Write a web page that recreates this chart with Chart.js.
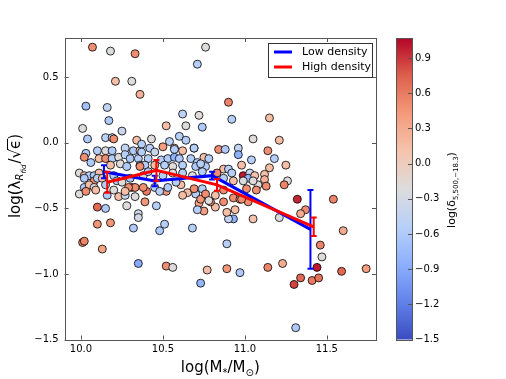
<!DOCTYPE html>
<html><head><meta charset="utf-8">
<script src="https://cdn.jsdelivr.net/npm/chart.js@4.4.1/dist/chart.umd.min.js"></script>
<style>html,body{margin:0;padding:0;background:#fff;}#wrap{width:506px;height:379px;}</style>
</head><body><div id="wrap"><canvas id="c" width="506" height="379"></canvas></div>
<script>
// ---- data ----
const xTicks = [10.0, 10.5, 11.0, 11.5];
const yTicks = [0.5, 0.0, -0.5, -1.0, -1.5];
const cbTicks = [0.9, 0.6, 0.3, 0.0, -0.3, -0.6, -0.9, -1.2, -1.5];
const cbMin = -1.5, cbMax = 1.07;

const lowX = [10.14, 10.45, 10.80, 11.40];
const lowY = [-0.22, -0.29, -0.25, -0.66];
const lowErr = [0.05, 0.04, 0.03, 0.30];
const highX = [10.16, 10.46, 10.83, 11.42];
const highY = [-0.30, -0.21, -0.32, -0.64];
const highErr = [0.08, 0.08, 0.045, 0.07];

const galX = [10.07,10.18,10.33,10.76,10.71,10.21,10.31,10.36,10.03,10.16,10.17,10.62,10.72,10.52,10.64,10.74,10.01,10.25,10.04,10.15,10.19,10.20,10.34,10.43,10.54,10.60,10.64,10.84,10.50,10.57,10.69,10.90,10.92,11.15,11.05,11.21,10.88,10.96,10.96,11.04,11.14,11.18,11.25,11.15,10.99,10.98,10.87,10.90,10.92,11.03,11.02,11.06,11.12,11.12,11.26,11.24,11.08,11.05,11.13,11.07,10.99,10.93,10.87,11.01,10.87,10.87,10.93,10.97,11.02,11.32,11.37,11.34,11.54,11.21,11.05,10.93,10.90,10.89,10.94,10.82,10.75,10.79,10.98,11.60,11.46,11.47,10.89,10.77,10.89,10.97,11.14,11.23,11.44,11.34,11.30,11.41,11.45,11.59,11.74,11.31,10.73,9.99,10.16,10.10,10.15,10.23,10.27,10.28,10.39,10.46,10.35,10.35,10.10,10.18,10.32,10.48,10.51,10.68,10.01,10.02,10.13,10.35,10.52,10.56,10.40,10.31,10.52,10.65,10.70,10.72,10.71,10.73,10.83,10.03,10.02,10.10,10.15,10.19,10.27,10.32,10.36,10.06,10.11,10.15,10.19,10.23,10.27,10.30,10.35,10.18,10.24,10.28,10.36,9.99,10.02,10.05,10.08,10.11,10.02,10.08,10.10,10.13,10.20,10.22,10.25,10.30,10.33,10.29,10.02,10.05,10.08,10.15,10.03,10.09,10.20,10.27,10.33,10.37,10.37,10.42,10.45,10.57,10.62,10.69,10.75,10.78,10.41,10.49,10.53,10.57,10.60,10.67,10.71,10.39,10.45,10.51,10.56,10.62,10.70,10.76,10.38,10.41,10.50,10.56,10.62,10.68,10.74,10.38,10.45,10.48,10.53,10.62,10.69,10.74,10.76,10.78,10.82,10.61,10.58,10.36,10.73];
const galY = [0.73,0.70,0.68,0.73,0.60,0.47,0.47,0.37,0.28,0.27,0.17,0.22,0.21,0.13,0.13,0.12,0.11,0.09,0.03,0.04,0.04,0.03,0.02,0.03,0.01,0.05,0.02,-0.05,-0.03,-0.04,-0.04,0.31,0.18,0.19,0.03,0.02,-0.05,-0.04,-0.09,-0.13,-0.06,-0.12,-0.17,-0.19,-0.25,-0.17,-0.20,-0.20,-0.23,-0.23,-0.27,-0.25,-0.24,-0.28,-0.29,-0.32,-0.32,-0.29,-0.33,-0.36,-0.29,-0.29,-0.27,-0.35,-0.36,-0.45,-0.42,-0.43,-0.45,-0.43,-0.51,-0.54,-0.43,-0.57,-0.58,-0.58,-0.58,-0.53,-0.51,-0.49,-0.52,-0.45,-0.43,-0.67,-0.78,-0.87,-0.77,-0.97,-0.96,-0.99,-0.95,-0.92,-0.95,-1.03,-1.08,-1.05,-1.03,-0.98,-0.96,-1.41,-1.07,-0.39,-0.40,-0.49,-0.50,-0.41,-0.40,-0.48,-0.45,-0.48,-0.54,-0.57,-0.62,-0.61,-0.65,-0.67,-0.62,-0.65,-0.76,-0.75,-0.81,-0.92,-0.94,-0.95,-0.37,-0.34,-0.37,-0.38,-0.39,-0.46,-0.51,-0.43,-0.23,-0.08,-0.11,-0.06,-0.06,-0.06,-0.04,-0.06,-0.06,-0.15,-0.12,-0.12,-0.12,-0.11,-0.09,-0.12,-0.12,-0.17,-0.16,-0.18,-0.17,-0.23,-0.25,-0.25,-0.25,-0.23,-0.27,-0.29,-0.27,-0.27,-0.25,-0.29,-0.30,-0.27,-0.34,-0.34,-0.34,-0.32,-0.34,-0.32,-0.37,-0.36,-0.36,-0.37,-0.41,-0.01,-0.07,-0.04,-0.07,-0.05,-0.06,-0.04,-0.11,-0.12,-0.12,-0.13,-0.12,-0.11,-0.12,-0.12,-0.15,-0.17,-0.17,-0.17,-0.18,-0.17,-0.18,-0.18,-0.25,-0.22,-0.25,-0.23,-0.23,-0.25,-0.22,-0.34,-0.34,-0.37,-0.34,-0.40,-0.35,-0.35,-0.39,-0.44,-0.40,-0.32,-0.30,-0.18,-0.16];
const galDelta = [0.5,-0.25,0.5,-0.2,-0.55,0.15,-0.2,0.25,-0.7,-0.45,-0.6,-0.5,-0.2,0.15,-0.2,-0.6,-0.2,-0.4,-0.6,-0.5,-0.45,0.5,0.15,-0.2,-0.5,-0.55,-0.55,0.5,0.4,0.1,0.15,0.55,-0.55,0.15,-0.2,0.15,-0.6,-0.45,-0.85,-0.55,0.5,-0.55,0.15,0.15,1.0,0.15,0.15,-0.55,-0.55,-0.4,-0.8,0.1,0.15,0.25,-0.2,0.55,-0.2,-0.2,0.5,0.5,-0.25,0.15,-0.55,0.5,0.5,0.5,0.5,0.35,0.5,0.95,0.5,0.3,0.55,-0.25,0.1,-0.85,-0.45,0.15,0.15,0.15,0.4,0.45,0.5,0.3,0.55,-0.2,-0.55,0.15,0.45,-0.6,0.55,0.3,1.0,0.7,0.85,0.6,0.65,0.7,0.4,-0.6,-0.8,-0.2,-0.6,0.7,-0.6,0.15,-0.4,-0.2,0.45,-0.55,-0.35,-0.3,0.45,0.45,-0.6,-0.6,-0.55,-0.55,0.5,0.55,0.35,-0.9,0.5,-0.2,0.6,0.6,0.45,0.15,-0.55,0.35,-0.55,0.45,0.5,-0.6,0.5,-0.55,-0.2,-0.6,-0.45,-0.6,0.15,-0.6,0.15,0.5,-0.55,-0.2,-0.55,-0.6,-0.55,0.15,-0.2,-0.6,-0.55,-0.2,0.15,-0.55,-0.6,0.15,-0.6,0.5,-0.55,0.15,-0.6,-0.55,-0.2,-0.6,0.5,0.5,-0.6,0.15,-0.2,-0.55,0.5,0.15,-0.2,0.15,-0.2,-0.55,-0.55,-0.55,-0.4,-0.55,0.15,-0.55,0.15,-0.55,-0.55,-0.55,-0.6,-0.85,-0.6,-0.55,-0.55,-0.55,0.15,-0.55,-0.2,-0.55,-0.6,-0.55,-0.2,-0.6,-0.55,-0.2,-0.55,-0.2,-0.55,0.5,-0.55,-0.55,-0.6,0.15,0.5,-0.55,0.5,-0.2,0.15,0.15,-0.55,0.5,-0.55];

// ---- colormap (matplotlib coolwarm) ----
const CW = [[58,76,193],[98,130,234],[141,176,254],[184,208,249],[221,220,220],[245,196,173],[244,154,123],[222,96,77],[180,4,38]];
function coolwarm(v){
  let t = (v - cbMin) / (cbMax - cbMin); t = Math.max(0, Math.min(1, t));
  const f = t * (CW.length - 1), i = Math.min(CW.length - 2, Math.floor(f)), r = f - i;
  const c = CW[i].map((a, k) => Math.round(a + (CW[i+1][k] - a) * r));
  return `rgb(${c[0]},${c[1]},${c[2]})`;
}

const FONT = "'DejaVu Sans', sans-serif";
const fmt = v => (v < 0 ? '\u2212' : '') + Math.abs(v).toFixed(1);
const pts = (xs, ys) => xs.map((x, i) => ({x, y: ys[i]}));

function drawPieces(ctx, pieces, x0, y0){
  let x = x0;
  for (const p of pieces){
    ctx.font = (p.it ? 'italic ' : '') + p.s + 'px ' + FONT;
    ctx.fillText(p.t, x, y0 + (p.dy || 0));
    const w = ctx.measureText(p.t).width;
    if (p.over){ ctx.fillRect(x - 1, y0 - p.over, w + 2, 1); }
    x += w + (p.gap || 0);
  }
  return x - x0;
}
function piecesWidth(ctx, pieces){
  let w = 0;
  for (const p of pieces){ ctx.font = (p.it ? 'italic ' : '') + p.s + 'px ' + FONT; w += ctx.measureText(p.t).width + (p.gap || 0); }
  return w;
}

const decor = {
  id: 'decor',
  afterDatasetDraw(chart, args){
    const ds = chart.data.datasets[args.index];
    if (!ds.errs) return;
    const ctx = chart.ctx, xs = chart.scales.x, ys = chart.scales.y;
    ctx.save();
    ctx.strokeStyle = ds.borderColor; ctx.lineWidth = 2;
    ds.data.forEach((p, i) => {
      const px = xs.getPixelForValue(p.x);
      const y1 = ys.getPixelForValue(p.y + ds.errs[i]), y2 = ys.getPixelForValue(p.y - ds.errs[i]);
      ctx.beginPath();
      ctx.moveTo(px, y1); ctx.lineTo(px, y2);
      ctx.moveTo(px - 3, y1); ctx.lineTo(px + 3, y1);
      ctx.moveTo(px - 3, y2); ctx.lineTo(px + 3, y2);
      ctx.stroke();
    });
    ctx.restore();
  },
  afterDraw(chart){
    const ctx = chart.ctx, a = chart.chartArea, xs = chart.scales.x, ys = chart.scales.y;
    ctx.save();
    // frame
    ctx.strokeStyle = '#555'; ctx.lineWidth = 1;
    ctx.strokeRect(Math.round(a.left) + 0.5, Math.round(a.top) + 0.5, Math.round(a.right - a.left), Math.round(a.bottom - a.top));
    // inward ticks
    ctx.beginPath();
    xTicks.forEach(v => { const p = Math.round(xs.getPixelForValue(v)) + 0.5;
      ctx.moveTo(p, a.bottom); ctx.lineTo(p, a.bottom - 4); ctx.moveTo(p, a.top); ctx.lineTo(p, a.top + 4); });
    yTicks.forEach(v => { const p = Math.round(ys.getPixelForValue(v)) + 0.5;
      ctx.moveTo(a.left, p); ctx.lineTo(a.left + 4, p); ctx.moveTo(a.right, p); ctx.lineTo(a.right - 4, p); });
    ctx.stroke();

    ctx.fillStyle = '#000'; ctx.textBaseline = 'alphabetic'; ctx.textAlign = 'left';
    // x title
    const xp = [{t:'log(M', s:15},{t:'*', s:10, dy:4},{t:'/M', s:15},{t:'\u2299', s:10, dy:4},{t:')', s:15}];
    const xw = piecesWidth(ctx, xp);
    drawPieces(ctx, xp, (a.left + a.right) / 2 - xw / 2, 372);
    // y title (rotated)
    const yp = [{t:'log(\u03bb', s:15},{t:'R', s:10, it:true, dy:3},{t:'fid', s:7, it:true, dy:6, gap:1},{t:'/', s:15},{t:'\u221a', s:15},{t:'\u03f5', s:15, over:13},{t:')', s:15}];
    const yw = piecesWidth(ctx, yp);
    ctx.save(); ctx.translate(20, 176); ctx.rotate(-Math.PI / 2);
    drawPieces(ctx, yp, -yw / 2, 0);
    ctx.restore();

    // legend
    const lx = 268.5, ly = 43.5, lw = 104, lh = 34;
    ctx.fillStyle = '#fff'; ctx.fillRect(lx, ly, lw, lh);
    ctx.strokeStyle = '#333'; ctx.lineWidth = 1; ctx.strokeRect(lx, ly, lw, lh);
    const leg = [[lowX, '#0000ff', 'Low density', 52], [highX, '#ff0000', 'High density', 67]];
    ctx.font = '11px ' + FONT; ctx.textBaseline = 'middle';
    leg.forEach(([_, col, txt, yy]) => {
      ctx.strokeStyle = col; ctx.lineWidth = 3;
      ctx.beginPath(); ctx.moveTo(274, yy); ctx.lineTo(292, yy); ctx.stroke();
      ctx.fillStyle = '#000'; ctx.fillText(txt, 302, yy + 0.5);
    });

    // colorbar
    const cx0 = 396, cx1 = 412, cy0 = a.top, cy1 = a.bottom;
    const cbPix = v => cy1 - (v - cbMin) / (cbMax - cbMin) * (cy1 - cy0);
    const g = ctx.createLinearGradient(0, cy1, 0, cy0);
    CW.forEach((c, i) => g.addColorStop(i / (CW.length - 1), `rgb(${c[0]},${c[1]},${c[2]})`));
    ctx.fillStyle = g; ctx.fillRect(cx0, cy0, cx1 - cx0, cy1 - cy0);
    ctx.strokeStyle = '#555'; ctx.lineWidth = 1;
    ctx.strokeRect(cx0 + 0.5, Math.round(cy0) + 0.5, cx1 - cx0, Math.round(cy1 - cy0));
    ctx.beginPath();
    cbTicks.forEach(v => { const p = Math.round(cbPix(v)) + 0.5; ctx.moveTo(cx1, p); ctx.lineTo(cx1 - 4, p); });
    ctx.stroke();
    ctx.fillStyle = '#000'; ctx.font = '10px ' + FONT; ctx.textBaseline = 'middle';
    cbTicks.forEach(v => ctx.fillText(fmt(v), 415, cbPix(v)));
    // colorbar label
    ctx.textBaseline = 'alphabetic';
    const cp = [{t:'log(\u03b4', s:11},{t:'5,500,\u221218.3', s:7, dy:3},{t:')', s:11}];
    const cw = piecesWidth(ctx, cp);
    ctx.save(); ctx.translate(455, 190); ctx.rotate(-Math.PI / 2);
    drawPieces(ctx, cp, -cw / 2, 0);
    ctx.restore();
    ctx.restore();
  }
};

new Chart(document.getElementById('c'), {
  type: 'scatter',
  data: { datasets: [
    { label: 'High density', data: pts(highX, highY), showLine: true, borderColor: '#ff0000', borderWidth: 3,
      pointRadius: 0, pointHoverRadius: 0, errs: highErr, order: 0 },
    { label: 'Low density', data: pts(lowX, lowY), showLine: true, borderColor: '#0000ff', borderWidth: 3,
      pointRadius: 0, pointHoverRadius: 0, errs: lowErr, order: 1 },
    { label: 'galaxies', data: pts(galX, galY), pointRadius: 4, pointHoverRadius: 4,
      backgroundColor: galDelta.map(coolwarm), borderColor: '#000', borderWidth: 0.8, order: 2 }
  ]},
  options: {
    responsive: false, animation: false, devicePixelRatio: 1,
    layout: { padding: { left: 0, right: 130, top: 38, bottom: 0 } },
    plugins: { legend: { display: false }, tooltip: { enabled: false } },
    scales: {
      x: { type: 'linear', min: 9.9, max: 11.8,
        afterBuildTicks: s => { s.ticks = xTicks.map(v => ({value: v})); },
        afterFit: s => { s.height = 39.5; },
        ticks: { callback: v => v.toFixed(1), font: { family: FONT, size: 10 }, color: '#000', padding: 4, maxRotation: 0, autoSkip: false },
        grid: { display: false, drawTicks: false }, border: { display: false } },
      y: { type: 'linear', min: -1.5, max: 0.8,
        afterBuildTicks: s => { s.ticks = yTicks.map(v => ({value: v})); },
        afterFit: s => { s.width = 64.6; },
        ticks: { callback: fmt, font: { family: FONT, size: 10 }, color: '#000', padding: 6, autoSkip: false },
        grid: { display: false, drawTicks: false }, border: { display: false } }
    }
  },
  plugins: [decor]
});
</script></body></html>
